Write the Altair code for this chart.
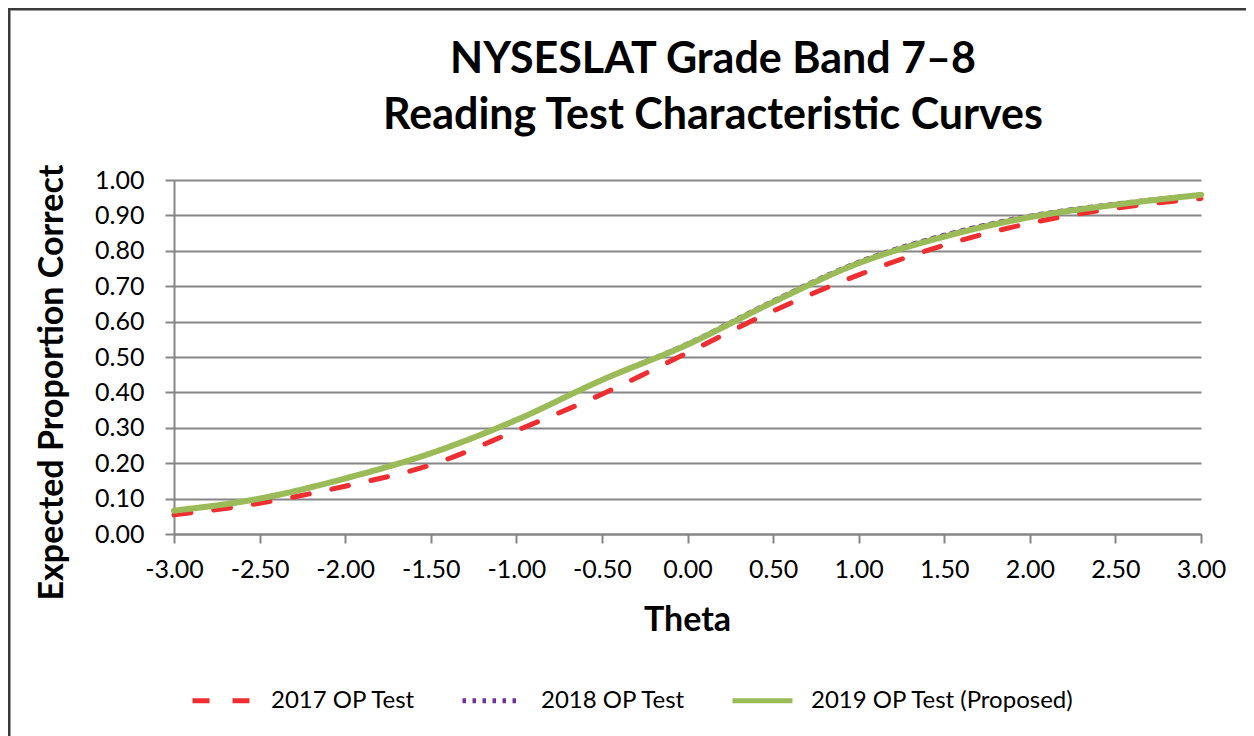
import altair as alt
import pandas as pd

theta = [-3.0, -2.5, -2.0, -1.5, -1.0, -0.5, 0.0, 0.5, 1.0, 1.5, 2.0, 2.5, 3.0]
op2017 = [0.054, 0.087, 0.135, 0.195, 0.292, 0.395, 0.512, 0.630, 0.732, 0.816, 0.878, 0.920, 0.948]
op2018 = [0.064, 0.098, 0.155, 0.228, 0.323, 0.437, 0.539, 0.660, 0.770, 0.846, 0.900, 0.934, 0.960]
op2019 = [0.066, 0.100, 0.157, 0.228, 0.322, 0.435, 0.535, 0.655, 0.765, 0.840, 0.895, 0.930, 0.958]

series = ["2017 OP Test", "2018 OP Test", "2019 OP Test (Proposed)"]
colors = ["#EE2E31", "#7030A0", "#9BBB59"]
dashes = [[17, 23], [3.5, 6.5], [1, 0]]
widths = [5, 3.5, 6]
y_ticks = [0.0, 0.1, 0.2, 0.3, 0.4, 0.5, 0.6, 0.7, 0.8, 0.9, 1.0]
x_ticks = [-3.0, -2.5, -2.0, -1.5, -1.0, -0.5, 0.0, 0.5, 1.0, 1.5, 2.0, 2.5, 3.0]
title_lines = ["NYSESLAT Grade Band 7\u20138", "Reading Test Characteristic Curves"]

rows = []
for name, vals, w in zip(series, [op2017, op2018, op2019], widths):
    for t, v in zip(theta, vals):
        rows.append({"Theta": t, "Value": v, "Series": name, "W": w})
df = pd.DataFrame(rows)

FONT = "Lato"
GRAY = "#868686"

lines = alt.Chart(df).mark_line(interpolate="monotone", strokeCap="round").encode(
    x=alt.X("Theta:Q",
            scale=alt.Scale(domain=[-3, 3], nice=False, zero=False),
            axis=alt.Axis(values=x_ticks, grid=False, labelOverlap=False, labelFlush=False,
                          labelExpr="replace(format(datum.value, '.2f'), '\u2212', '-')",
                          title="Theta", titleX=513, titleY=86, titleBaseline="middle",
                          titleFontSize=34, titleFontWeight="bold",
                          labelPadding=14)),
    y=alt.Y("Value:Q",
            scale=alt.Scale(domain=[0, 1], nice=False),
            axis=alt.Axis(values=y_ticks, format=".2f", grid=True, labelOverlap=False,
                          labelFlush=False,
                          title="Expected Proportion Correct",
                          titleX=-122, titleY=202, titleAlign="center",
                          titleBaseline="middle", titleAngle=270,
                          titleFontSize=34, titleFontWeight="bold",
                          labelPadding=21)),
    color=alt.Color("Series:N", scale=alt.Scale(domain=series, range=colors),
                    legend=alt.Legend(title=None, orient="none", direction="horizontal",
                                      legendX=16, legendY=488,
                                      symbolType="stroke", symbolSize=3600,
                                      symbolStrokeWidth=5,
                                      labelFontSize=24, labelOffset=16, labelLimit=0,
                                      columnPadding=36, labelFont=FONT,
                                      labelColor="#000000")),
    strokeDash=alt.StrokeDash("Series:N", scale=alt.Scale(domain=series, range=dashes)),
    strokeWidth=alt.StrokeWidth("W:Q", scale=None, legend=None),
    order=alt.Order("Theta:Q"),
)

title_df = pd.DataFrame({"line": title_lines, "n": [0, 1]})
title1 = alt.Chart(title_df).transform_filter("datum.n == 0").mark_text(
    font=FONT, fontSize=43, fontWeight="bold", color="#000000", align="center", baseline="alphabetic"
).encode(text="line:N", x=alt.value(539), y=alt.value(-107))
title2 = alt.Chart(title_df).transform_filter("datum.n == 1").mark_text(
    font=FONT, fontSize=43, fontWeight="bold", color="#000000", align="center", baseline="alphabetic"
).encode(text="line:N", x=alt.value(539), y=alt.value(-51))

border_v = alt.Chart(pd.DataFrame({"a": [0]})).mark_rule(color="#3a3a3a", strokeWidth=3).encode(
    x=alt.value(-165), y=alt.value(-172), y2=alt.value(560)
)
border_h = alt.Chart(pd.DataFrame({"a": [0]})).mark_rule(color="#3a3a3a", strokeWidth=3).encode(
    x=alt.value(-166), x2=alt.value(1080), y=alt.value(-171)
)

chart = alt.layer(lines, title1, title2, border_v, border_h).properties(
    width=1027,
    height=354,
    background="white",
    autosize=alt.AutoSizeParams(type="none"),
    padding={"left": 166, "top": 172, "right": 45, "bottom": 202},
).configure_view(stroke=None).configure_axis(
    labelFont=FONT, titleFont=FONT, labelFontSize=25, labelColor="#000000",
    titleColor="#000000", domainColor=GRAY, domainWidth=2, tickColor=GRAY,
    tickWidth=2, tickSize=9, gridColor=GRAY, gridWidth=2, gridOpacity=1,
)

chart.save("out.html", embed_options={"renderer": "svg", "actions": False})
